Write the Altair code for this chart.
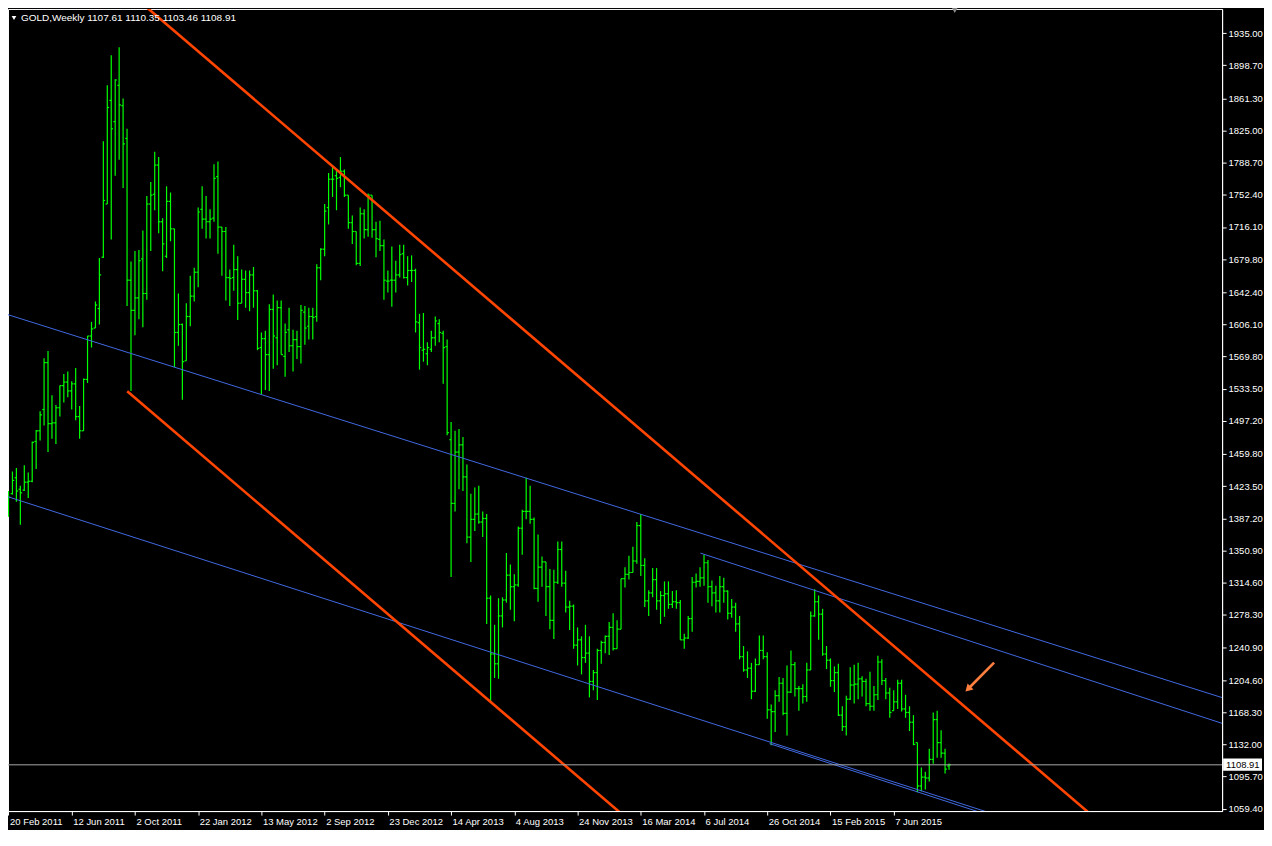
import altair as alt
import pandas as pd

# ---------------- weekly OHLC (GOLD, from 20 Feb 2011) ----------------
opens = [1390, 1415, 1433, 1420, 1419, 1428, 1429, 1474, 1486, 1510,
         1563, 1494, 1495, 1512, 1537, 1541, 1531, 1539, 1502, 1486,
         1544, 1593, 1602, 1624, 1682, 1742, 1859, 1835, 1876, 1853,
         1816, 1656, 1622, 1636, 1680, 1641, 1742, 1753, 1786, 1722,
         1683, 1745, 1714, 1597, 1606, 1565, 1615, 1638, 1665, 1736,
         1725, 1722, 1726, 1773, 1716, 1711, 1659, 1659, 1668, 1630,
         1657, 1642, 1662, 1644, 1580, 1590, 1572, 1623, 1591, 1625,
         1570, 1600, 1582, 1589, 1581, 1620, 1604, 1615, 1615, 1670,
         1691, 1738, 1770, 1774, 1772, 1779, 1752, 1721, 1711, 1675,
         1731, 1713, 1752, 1713, 1702, 1695, 1655, 1656, 1656, 1662,
         1686, 1659, 1667, 1667, 1608, 1577, 1573, 1578, 1591, 1607,
         1596, 1581, 1476, 1404, 1462, 1470, 1434, 1366, 1386, 1392,
         1383, 1387, 1297, 1234, 1223, 1277, 1295, 1323, 1310, 1312,
         1376, 1395, 1395, 1386, 1308, 1332, 1338, 1310, 1272, 1315,
         1352, 1314, 1287, 1288, 1244, 1250, 1230, 1235, 1203, 1213,
         1238, 1247, 1254, 1264, 1240, 1262, 1319, 1324, 1326, 1339,
         1379, 1334, 1294, 1303, 1318, 1294, 1300, 1302, 1290, 1293,
         1292, 1250, 1252, 1274, 1315, 1316, 1320, 1337, 1310, 1303,
         1294, 1310, 1305, 1280, 1287, 1268, 1231, 1216, 1218, 1192,
         1222, 1238, 1231, 1171, 1169, 1187, 1201, 1167, 1191, 1222,
         1195, 1195, 1186, 1216, 1277, 1293, 1279, 1234, 1227, 1204,
         1213, 1165, 1152, 1183, 1199, 1200, 1206, 1203, 1178, 1175,
         1188, 1225, 1204, 1190, 1170, 1180, 1201, 1172, 1168, 1157,
         1134, 1085, 1095, 1094, 1115, 1160, 1134, 1122, 1107.61]
highs = [1418, 1440, 1444, 1424, 1447, 1439, 1474, 1487, 1508, 1568,
         1576, 1526, 1515, 1537, 1550, 1553, 1542, 1557, 1514, 1545,
         1593, 1609, 1632, 1681, 1813, 1876, 1910, 1883, 1919, 1861,
         1827, 1677, 1689, 1690, 1712, 1751, 1767, 1801, 1795, 1726,
         1762, 1755, 1714, 1641, 1607, 1630, 1661, 1670, 1738, 1762,
         1751, 1736, 1787, 1790, 1716, 1716, 1668, 1696, 1683, 1668,
         1667, 1667, 1671, 1645, 1597, 1599, 1629, 1640, 1633, 1633,
         1607, 1625, 1600, 1599, 1628, 1627, 1625, 1625, 1674, 1692,
         1742, 1777, 1786, 1781, 1795, 1781, 1752, 1729, 1711, 1738,
         1736, 1754, 1752, 1722, 1723, 1702, 1667, 1694, 1678, 1696,
         1696, 1683, 1684, 1669, 1618, 1619, 1586, 1599, 1615, 1612,
         1599, 1589, 1496, 1486, 1488, 1479, 1448, 1415, 1422, 1424,
         1395, 1392, 1300, 1267, 1297, 1298, 1348, 1335, 1324, 1378,
         1397, 1433, 1424, 1388, 1369, 1344, 1338, 1330, 1329, 1361,
         1361, 1328, 1294, 1290, 1264, 1254, 1267, 1254, 1216, 1240,
         1249, 1255, 1270, 1280, 1272, 1319, 1332, 1345, 1355, 1383,
         1392, 1342, 1306, 1331, 1331, 1305, 1316, 1316, 1305, 1306,
         1295, 1257, 1277, 1321, 1325, 1332, 1346, 1340, 1317, 1311,
         1322, 1320, 1306, 1296, 1292, 1277, 1243, 1237, 1224, 1229,
         1255, 1255, 1236, 1177, 1193, 1208, 1207, 1221, 1238, 1225,
         1198, 1200, 1224, 1282, 1307, 1300, 1285, 1243, 1229, 1220,
         1223, 1175, 1187, 1219, 1222, 1224, 1209, 1206, 1214, 1198,
         1232, 1228, 1207, 1196, 1193, 1205, 1205, 1188, 1175, 1165,
         1134, 1106, 1101, 1127, 1168, 1170, 1148, 1127, 1110.35]
lows = [1389, 1414, 1406, 1380, 1418, 1410, 1428, 1443, 1475, 1492,
        1462, 1477, 1471, 1502, 1518, 1524, 1510, 1498, 1477, 1486,
        1540, 1580, 1602, 1606, 1681, 1742, 1702, 1774, 1792, 1760,
        1627, 1531, 1594, 1612, 1603, 1634, 1689, 1735, 1709, 1666,
        1681, 1700, 1558, 1582, 1521, 1565, 1604, 1632, 1648, 1714,
        1703, 1703, 1722, 1686, 1661, 1633, 1627, 1644, 1611, 1630,
        1625, 1621, 1625, 1577, 1527, 1532, 1531, 1556, 1560, 1572,
        1547, 1575, 1553, 1567, 1562, 1583, 1589, 1589, 1609, 1656,
        1683, 1719, 1750, 1735, 1761, 1750, 1714, 1697, 1673, 1672,
        1703, 1705, 1704, 1682, 1689, 1634, 1642, 1626, 1642, 1659,
        1658, 1650, 1654, 1597, 1555, 1564, 1560, 1575, 1582, 1586,
        1539, 1481, 1321, 1395, 1420, 1418, 1359, 1338, 1373, 1381,
        1366, 1268, 1180, 1207, 1206, 1264, 1292, 1284, 1271, 1310,
        1346, 1386, 1381, 1307, 1293, 1310, 1277, 1262, 1251, 1313,
        1310, 1281, 1261, 1240, 1221, 1211, 1224, 1185, 1193, 1182,
        1223, 1235, 1233, 1238, 1240, 1262, 1309, 1318, 1326, 1336,
        1322, 1287, 1277, 1298, 1284, 1268, 1276, 1285, 1286, 1285,
        1250, 1240, 1251, 1259, 1309, 1310, 1311, 1292, 1288, 1281,
        1281, 1292, 1273, 1275, 1259, 1228, 1214, 1207, 1183, 1191,
        1222, 1228, 1161, 1131, 1146, 1180, 1165, 1142, 1190, 1186,
        1170, 1178, 1180, 1216, 1276, 1250, 1232, 1217, 1197, 1191,
        1164, 1147, 1142, 1182, 1178, 1183, 1186, 1175, 1170, 1170,
        1182, 1199, 1183, 1162, 1170, 1172, 1169, 1162, 1147, 1131,
        1078, 1079, 1081, 1090, 1110, 1117, 1117, 1099, 1103.46]
closes = [1411, 1430, 1418, 1416, 1428, 1429, 1473, 1486, 1504, 1563,
          1494, 1495, 1512, 1537, 1541, 1531, 1539, 1502, 1486, 1544,
          1593, 1601, 1628, 1662, 1746, 1851, 1827, 1882, 1854, 1810,
          1656, 1622, 1636, 1678, 1641, 1742, 1752, 1786, 1722, 1697,
          1745, 1714, 1597, 1606, 1564, 1615, 1638, 1665, 1733, 1725,
          1722, 1725, 1771, 1716, 1711, 1659, 1658, 1668, 1630, 1657,
          1642, 1662, 1644, 1579, 1590, 1572, 1623, 1593, 1625, 1572,
          1597, 1582, 1589, 1581, 1622, 1602, 1615, 1614, 1670, 1691,
          1734, 1770, 1770, 1771, 1779, 1752, 1721, 1711, 1675, 1731,
          1713, 1752, 1713, 1703, 1695, 1656, 1655, 1656, 1662, 1685,
          1659, 1667, 1667, 1609, 1580, 1578, 1580, 1591, 1610, 1597,
          1580, 1484, 1404, 1462, 1470, 1434, 1366, 1386, 1392, 1383,
          1387, 1297, 1234, 1223, 1277, 1295, 1323, 1310, 1312, 1376,
          1395, 1395, 1386, 1308, 1332, 1338, 1310, 1272, 1315, 1352,
          1314, 1287, 1288, 1244, 1250, 1230, 1235, 1203, 1213, 1238,
          1247, 1254, 1264, 1240, 1262, 1319, 1324, 1326, 1339, 1379,
          1334, 1294, 1303, 1318, 1294, 1300, 1302, 1290, 1293, 1292,
          1250, 1252, 1274, 1315, 1316, 1320, 1337, 1310, 1303, 1294,
          1310, 1305, 1280, 1287, 1268, 1231, 1216, 1218, 1192, 1222,
          1238, 1231, 1171, 1169, 1187, 1201, 1167, 1191, 1222, 1195,
          1195, 1186, 1216, 1277, 1293, 1279, 1234, 1227, 1204, 1213,
          1165, 1152, 1183, 1199, 1200, 1206, 1203, 1178, 1175, 1188,
          1225, 1204, 1190, 1168, 1180, 1201, 1172, 1168, 1157, 1132,
          1085, 1095, 1094, 1115, 1160, 1134, 1122, 1104, 1108.91]

# ---------------- axes ----------------
date_tick_weeks = [0, 16, 32, 48, 64, 80, 96, 112, 128, 144, 160, 176, 192, 208, 224]
date_tick_labels = ["20 Feb 2011", "12 Jun 2011", "2 Oct 2011", "22 Jan 2012",
                    "13 May 2012", "2 Sep 2012", "23 Dec 2012", "14 Apr 2013",
                    "4 Aug 2013", "24 Nov 2013", "16 Mar 2014", "6 Jul 2014",
                    "26 Oct 2014", "15 Feb 2015", "7 Jun 2015"]
price_ticks = [1935.00, 1898.70, 1861.30, 1825.00, 1788.70, 1752.40, 1716.10,
               1679.80, 1642.40, 1606.10, 1569.80, 1533.50, 1497.20, 1459.80,
               1423.50, 1387.20, 1350.90, 1314.60, 1278.30, 1240.90, 1204.60,
               1168.30, 1132.00, 1095.70, 1059.40]

# ---------------- drawn objects (week index, price) ----------------
red_x1 = [30.0, 30.05]
red_p1 = [1983.0, 1530.6]
red_x2 = [275.0, 160.0]
red_p2 = [1048.6, 1035.0]

blue_x1 = [-2.0, -2.0, 175.1, 192.6]
blue_p1 = [1619.7, 1414.2, 1347.9, 1132.8]
blue_x2 = [310.0, 260.0, 310.0, 260.0]
blue_p2 = [1180.7, 1037.9, 1151.5, 1034.7]

arrow_tail = [249.4, 1224.3]
arrow_head = [242.8, 1194.5]

symbol = "GOLD,Weekly"
last_price = 1108.91

FONT = "Liberation Sans"
GREEN = "#00ff00"

bars = pd.DataFrame({"week": list(range(len(opens))), "open": opens,
                     "high": highs, "low": lows, "close": closes})

x_scale = alt.Scale(domain=[-0.125, 307.1], nice=False, zero=False)
y_scale = alt.Scale(domain=[1056.7, 1962.2], nice=False, zero=False)

labels_js = "[" + ",".join("'" + s + "'" for s in date_tick_labels) + "]"
x_axis = alt.Axis(values=date_tick_weeks, labelExpr=labels_js + "[round(datum.value / 16)]",
                  title=None, grid=False, tickSize=4, tickColor="white",
                  domainColor="white", labelColor="white", labelFont=FONT,
                  labelFontSize=9.5, labelAlign="left", labelOffset=1,
                  labelPadding=1, labelOverlap=False, labelFlush=False)
y_axis = alt.Axis(values=price_ticks, format=".2f", orient="right", title=None,
                  grid=False, tickSize=4, tickColor="white", domainColor="white",
                  labelColor="white", labelFont=FONT, labelFontSize=9.5,
                  labelPadding=2, labelOverlap=False, labelFlush=False)


def X(field):
    return alt.X(field, scale=x_scale, axis=x_axis)


def Y(field):
    return alt.Y(field, scale=y_scale, axis=y_axis)


hl = alt.Chart(bars).mark_rule(color=GREEN, strokeWidth=1.2).encode(
    x=X("week:Q"), y=Y("low:Q"), y2="high:Q",
)
open_ticks = alt.Chart(bars).transform_calculate(xl="datum.week - 0.45").mark_rule(
    color=GREEN, strokeWidth=1.2).encode(
    x=X("xl:Q"), x2="week:Q", y=Y("open:Q"),
)
close_ticks = alt.Chart(bars).transform_calculate(xr="datum.week + 0.45").mark_rule(
    color=GREEN, strokeWidth=1.2).encode(
    x=X("week:Q"), x2="xr:Q", y=Y("close:Q"),
)

blue_df = pd.DataFrame({"x1": blue_x1, "p1": blue_p1, "x2": blue_x2, "p2": blue_p2})
blue = alt.Chart(blue_df).mark_rule(color="#4169e1", strokeWidth=1, clip=True).encode(
    x=X("x1:Q"), x2="x2:Q", y=Y("p1:Q"), y2="p2:Q",
)
red_df = pd.DataFrame({"x1": red_x1, "p1": red_p1, "x2": red_x2, "p2": red_p2})
red = alt.Chart(red_df).mark_rule(color="#ff4500", strokeWidth=2.6, clip=True).encode(
    x=X("x1:Q"), x2="x2:Q", y=Y("p1:Q"), y2="p2:Q",
)

price_df = pd.DataFrame({"price": [last_price], "top": [last_price + 7.0],
                         "bot": [last_price - 6.6], "label": [f"{last_price:.2f}"]})
price_line = alt.Chart(price_df).mark_rule(color="#a8a8a8", strokeWidth=1).encode(
    y=Y("price:Q"))
price_box = alt.Chart(price_df).mark_rect(color="white").encode(
    x=alt.value(1218), x2=alt.value(1257), y=Y("top:Q"), y2="bot:Q")
price_text = alt.Chart(price_df).mark_text(
    color="black", font=FONT, fontSize=9.5, align="left", baseline="middle").encode(
    x=alt.value(1221), y=Y("price:Q"), text="label:N")

arrow_df = pd.DataFrame({"x1": [arrow_tail[0]], "p1": [arrow_tail[1]],
                         "x2": [arrow_head[0]], "p2": [arrow_head[1]]})
arrow_shaft = alt.Chart(arrow_df).mark_rule(color="#ff7f3f", strokeWidth=2.6).encode(
    x=X("x1:Q"), x2="x2:Q", y=Y("p1:Q"), y2="p2:Q")
arrow_tip = alt.Chart(arrow_df).mark_point(
    shape="triangle-up", filled=True, angle=225, size=70, color="#ff7f3f", opacity=1).encode(
    x=X("x2:Q"), y=Y("p2:Q"))

header_df = pd.DataFrame({"t": [f"{symbol}  {opens[-1]:.2f} {highs[-1]:.2f} {lows[-1]:.2f} {closes[-1]:.2f}"]})
header = alt.Chart(header_df).mark_text(
    color="white", font=FONT, fontSize=10, align="left", baseline="middle").encode(
    x=alt.value(13), y=alt.value(9), text="t:N")
header_tri = alt.Chart(header_df).mark_point(
    shape="triangle-down", filled=True, color="white", size=22, opacity=1).encode(
    x=alt.value(6), y=alt.value(9))
shift_tri = alt.Chart(header_df).mark_point(
    shape="triangle-down", filled=True, color="#8c8c8c", size=45, opacity=1).encode(
    x=alt.value(949), y=alt.value(1))

chart = alt.layer(
    hl, open_ticks, close_ticks, blue, red, price_line, arrow_shaft, arrow_tip,
    price_box, price_text, header_tri, header, shift_tri,
).properties(
    width=1217, height=804,
    padding={"left": 0, "top": 0, "right": 42, "bottom": 18},
    autosize=alt.AutoSizeParams(type="none"),
).configure(background="black").configure_view(stroke="white", strokeWidth=1)

chart.save("out.html", embed_options={"renderer": "svg", "actions": False})
